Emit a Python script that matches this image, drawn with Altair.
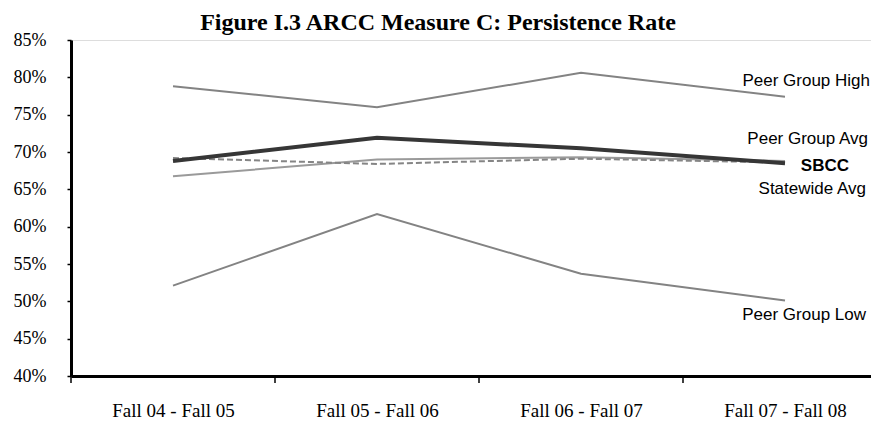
import altair as alt
import pandas as pd

categories = ["Fall 04 - Fall 05", "Fall 05 - Fall 06", "Fall 06 - Fall 07", "Fall 07 - Fall 08"]
series_names = ["Peer Group High", "Peer Group Avg", "Statewide Avg", "Peer Group Low", "SBCC"]
peer_high = [0.788, 0.760, 0.806, 0.774]
peer_avg = [0.6675, 0.690, 0.693, 0.688]
statewide = [0.692, 0.684, 0.691, 0.686]
peer_low = [0.521, 0.617, 0.537, 0.501]
sbcc = [0.688, 0.719, 0.705, 0.685]
y_ticks = [0.40, 0.45, 0.50, 0.55, 0.60, 0.65, 0.70, 0.75, 0.80, 0.85]

values = {
    "Peer Group High": peer_high,
    "Peer Group Avg": peer_avg,
    "Statewide Avg": statewide,
    "Peer Group Low": peer_low,
    "SBCC": sbcc,
}
rows = []
for s in series_names:
    for c, v in zip(categories, values[s]):
        rows.append({"cat": c, "series": s, "value": v})
df = pd.DataFrame(rows)
bounds = pd.DataFrame({"b": list(range(len(categories)))})

styles = {
    "Peer Group High": dict(color="#838383", strokeWidth=2),
    "Peer Group Avg": dict(color="#9a9a9a", strokeWidth=2),
    "Statewide Avg": dict(color="#858585", strokeWidth=2, strokeDash=[6, 3]),
    "Peer Group Low": dict(color="#838383", strokeWidth=2),
    "SBCC": dict(color="#363636", strokeWidth=4),
}
label_styles = {
    "Peer Group High": dict(dx=85, dy=-16, fontWeight="normal"),
    "Peer Group Avg": dict(dx=83, dy=-22, fontWeight="normal"),
    "SBCC": dict(dx=64, dy=3, fontWeight="bold"),
    "Statewide Avg": dict(dx=81, dy=27, fontWeight="normal"),
    "Peer Group Low": dict(dx=81, dy=14, fontWeight="normal"),
}

PLOT_W = 800
BAND = 204
cat_js = "[" + ",".join("'" + c + "'" for c in categories) + "]"
x_scale = alt.Scale(domain=[0, PLOT_W / BAND], nice=False, zero=False)
x_axis = alt.Axis(
    title=None, values=[i + 0.5 for i in range(len(categories))],
    labelExpr=cat_js + "[floor(datum.value)]", labelAngle=0, grid=False,
    domainColor="black", domainWidth=3, tickSize=0, ticks=False,
    labelFont="Liberation Serif", labelFontSize=19, labelColor="black",
    labelPadding=25, labelFlush=False, labelOverlap=False,
)
x_enc = alt.X("xi:Q", scale=x_scale, axis=x_axis)
y_enc = alt.Y(
    "value:Q",
    scale=alt.Scale(domain=[0.40, 0.85], nice=False, zero=False),
    axis=alt.Axis(
        title=None, values=y_ticks, format=".0%", grid=False,
        domainColor="black", domainWidth=3, tickColor="black", tickWidth=1.5,
        tickSize=4, labelFont="Liberation Serif", labelFontSize=18,
        labelColor="black", labelPadding=21,
    ),
)

base = alt.Chart(df).transform_calculate(xi="indexof(" + cat_js + ", datum.cat) + 0.5")
layers = []
for s in series_names:
    layers.append(
        base.transform_filter(alt.datum.series == s)
        .mark_line(**styles[s])
        .encode(x=x_enc, y=y_enc)
    )
for s, st in label_styles.items():
    layers.append(
        base.transform_filter((alt.datum.series == s) & (alt.datum.cat == categories[-1]))
        .mark_text(align="right", baseline="middle", font="Liberation Sans",
                   fontSize=17, color="black", dx=st["dx"], dy=st["dy"],
                   fontWeight=st["fontWeight"])
        .encode(x=x_enc, y=y_enc, text=alt.value(s))
    )
ticks = (
    alt.Chart(bounds)
    .mark_rule(color="black", strokeWidth=1.5)
    .encode(x=alt.X("b:Q", scale=x_scale, axis=x_axis), y=alt.value(336), y2=alt.value(343))
)
layers.append(ticks)

chart = (
    alt.layer(*layers)
    .properties(
        width=PLOT_W,
        height=336,
        autosize=alt.AutoSizeParams(type="none"),
        padding={"left": 63, "top": 32, "right": 0, "bottom": 45},
        title=alt.TitleParams(
            "Figure I.3 ARCC Measure C: Persistence Rate",
            font="Liberation Serif", fontSize=24, fontWeight="bold",
            color="black", frame="group", dx=-33, offset=-4, anchor="middle",
        ),
    )
    .configure_view(stroke=None)
    .configure(background="white")
)

chart.save("out.html", embed_options={"renderer": "svg", "actions": False})
